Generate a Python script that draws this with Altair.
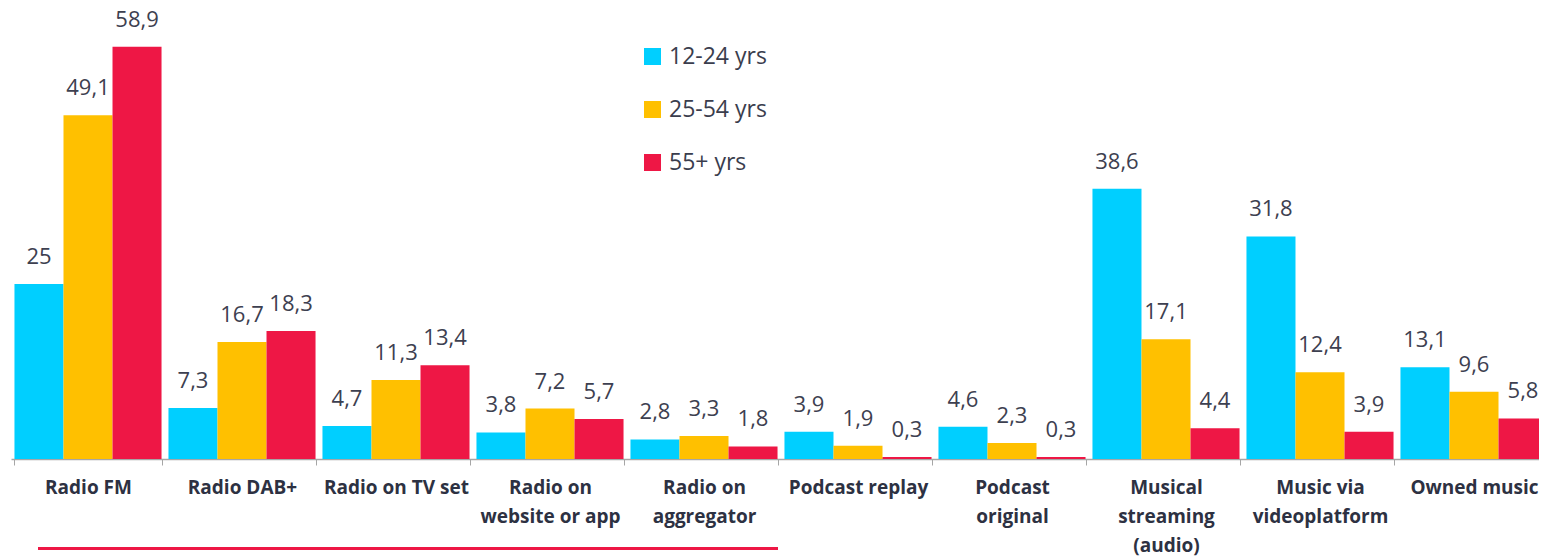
import altair as alt
import pandas as pd

categories = ["Radio FM", "Radio DAB+", "Radio on TV set", "Radio on|website or app",
              "Radio on|aggregator", "Podcast replay", "Podcast|original",
              "Musical|streaming|(audio)", "Music via|videoplatform", "Owned music"]
series = ["12-24 yrs", "25-54 yrs", "55+ yrs"]
v_12_24 = [25, 7.3, 4.7, 3.8, 2.8, 3.9, 4.6, 38.6, 31.8, 13.1]
v_25_54 = [49.1, 16.7, 11.3, 7.2, 3.3, 1.9, 2.3, 17.1, 12.4, 9.6]
v_55 = [58.9, 18.3, 13.4, 5.7, 1.8, 0.3, 0.3, 4.4, 3.9, 5.8]
colors = ["#00CFFF", "#FFC000", "#EE1745"]

rows = []
for s, vals in zip(series, [v_12_24, v_25_54, v_55]):
    for c, v in zip(categories, vals):
        rows.append({"category": c, "series": s, "value": v,
                     "label": f"{v:g}".replace(".", ",")})
df = pd.DataFrame(rows)

base = alt.Chart(df).encode(
    x=alt.X("category:N", sort=categories,
            scale=alt.Scale(paddingInner=0.045, paddingOuter=0.0225, range=[0, 1540]),
            axis=alt.Axis(title=None, labelAngle=0,
                          labelExpr="split(datum.label, '|')",
                          labelFont="Open Sans", labelFontWeight="bold",
                          labelFontSize=19, labelColor="#2d3142",
                          labelLineHeight=29, labelPadding=13, labelLimit=300,
                          tickBand="extent", tickSize=6, tickColor="#a6a6a6",
                          domainColor="#a6a6a6", domainWidth=1.5, grid=False)),
    xOffset=alt.XOffset("series:N", sort=series, scale=alt.Scale(paddingInner=0)),
)

bars = base.mark_bar().encode(
    y=alt.Y("value:Q", scale=alt.Scale(domain=[0, 62], nice=False), axis=None),
    color=alt.Color("series:N", sort=series,
                    scale=alt.Scale(domain=series, range=colors),
                    legend=alt.Legend(title=None, orient="none", legendX=630, legendY=20,
                                      symbolType="square", symbolSize=289,
                                      symbolStrokeWidth=0, labelFontSize=23,
                                      labelFont="Open Sans", labelColor="#3a3d4d",
                                      rowPadding=29, labelOffset=5)),
)

text = base.mark_text(dy=-20, baseline="alphabetic", align="center", fontSize=22,
                      font="Open Sans", color="#3d4050").encode(
    y=alt.Y("value:Q"), text="label:N")

redline = alt.Chart(pd.DataFrame({"a": [0]})).mark_rule(color="#EE1745", strokeWidth=3).encode(
    x=alt.value(27), x2=alt.value(767), y=alt.value(523.5))

chart = alt.layer(bars, text, redline).properties(
    width=1528, height=434,
    padding={"left": 3, "top": 17, "right": 0, "bottom": 98},
    autosize=alt.AutoSizeParams(type="none"),
).configure_view(stroke=None)

chart.save("out.html", embed_options={"renderer": "svg", "actions": False})
